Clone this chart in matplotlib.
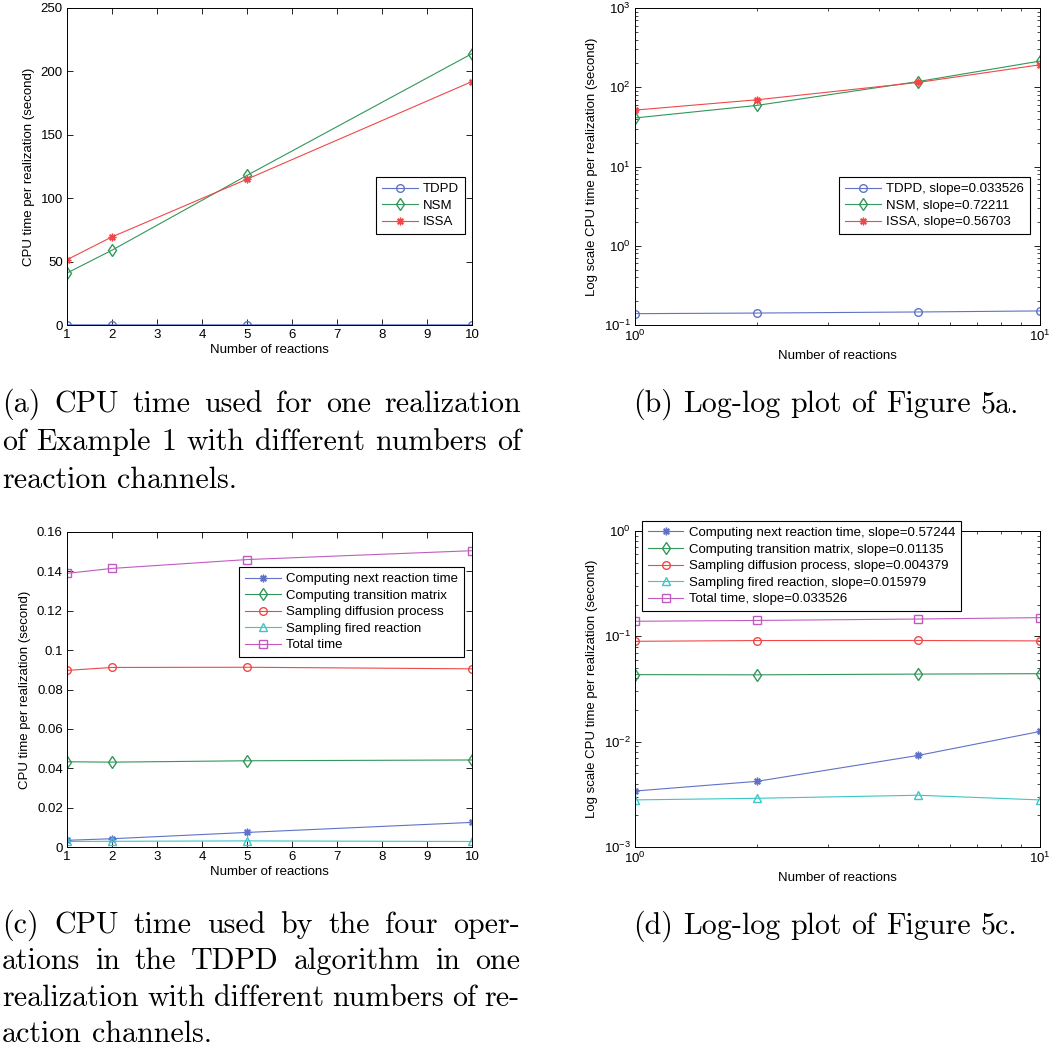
import numpy as np
import matplotlib
matplotlib.use('Agg')
import matplotlib.pyplot as plt
from matplotlib.ticker import FormatStrFormatter, NullFormatter, LogLocator

plt.rcParams['font.family'] = ['Liberation Sans', 'DejaVu Sans']
plt.rcParams['mathtext.fontset'] = 'custom'
plt.rcParams['mathtext.rm'] = 'Liberation Sans'
plt.rcParams['mathtext.it'] = 'Liberation Sans:italic'
plt.rcParams['mathtext.bf'] = 'Liberation Sans:bold'

# data
n_reactions = [1, 2, 5, 10]

tdpd = [0.139, 0.1415, 0.146, 0.1505]
nsm = [41, 59, 118, 214]
issa = [51.5, 69.5, 115, 192]
slopes_ab = ['0.033526', '0.72211', '0.56703']
names_ab = ['TDPD', 'NSM', 'ISSA']

next_reaction = [0.0034, 0.0042, 0.0074, 0.0125]
transition = [0.0433, 0.0431, 0.0438, 0.0442]
diffusion = [0.0897, 0.0912, 0.0913, 0.0905]
fired = [0.0028, 0.0029, 0.0031, 0.0028]
total = [0.139, 0.1415, 0.146, 0.1505]
slopes_cd = ['0.57244', '0.01135', '0.004379', '0.015979', '0.033526']
names_cd = ['Computing next reaction time', 'Computing transition matrix',
            'Sampling diffusion process', 'Sampling fired reaction', 'Total time']

blue = '#5f72c8'
green = '#31975a'
red = '#f04848'
cyan = '#3cc6c6'
magenta = '#c05cc0'

W, H = 1050, 1049
fig = plt.figure(figsize=(W / 100, H / 100), dpi=100)

fs = 9.5
lw = 0.8
ms = 5.5
star = (8, 2, 0)


def make_axes(x0, x1, y0, y1):
    ax = fig.add_axes([x0 / W, 1 - y1 / H, (x1 - x0) / W, (y1 - y0) / H])
    ax.tick_params(direction='in', top=True, right=True, labelsize=fs,
                   length=4, width=0.6, pad=3)
    ax.tick_params(which='minor', direction='in', top=True, right=True,
                   length=2.5, width=0.5)
    for s in ax.spines.values():
        s.set_linewidth(0.7)
    return ax


def style_legend(ax, **kw):
    leg = ax.legend(fontsize=fs, numpoints=1, fancybox=False, framealpha=1,
                    edgecolor='black', handlelength=2.7, handletextpad=0.4,
                    labelspacing=0.33, borderpad=0.45, borderaxespad=0, **kw)
    leg.get_frame().set_linewidth(0.8)
    return leg


def log_axis(ax):
    ax.set_xscale('log')
    ax.set_yscale('log')
    ax.xaxis.set_minor_formatter(NullFormatter())
    ax.yaxis.set_minor_locator(LogLocator(base=10, subs=np.arange(2, 10)))
    ax.yaxis.set_minor_formatter(NullFormatter())


# (a)
ax = make_axes(67, 472, 8, 325)
ax.plot(n_reactions, tdpd, color=blue, lw=lw, marker='o', ms=ms, mfc='none', label=names_ab[0])
ax.plot(n_reactions, nsm, color=green, lw=lw, marker='d', ms=ms + 0.5, mfc='none', label=names_ab[1])
ax.plot(n_reactions, issa, color=red, lw=lw, marker=star, ms=ms, label=names_ab[2])
ax.set_xlim(1, 10)
ax.set_ylim(0, 250)
ax.set_xticks(range(1, 11))
ax.set_yticks(range(0, 251, 50))
ax.set_xlabel('Number of reactions', fontsize=fs, labelpad=2)
ax.set_ylabel('CPU time per realization (second)', fontsize=fs)
style_legend(ax, loc='upper right', bbox_to_anchor=(0.983, 0.467))

# (b)
ax = make_axes(635, 1040, 8, 325)
log_axis(ax)
ax.plot(n_reactions, tdpd, color=blue, lw=lw, marker='o', ms=ms, mfc='none',
        label=names_ab[0] + ', slope=' + slopes_ab[0])
ax.plot(n_reactions, nsm, color=green, lw=lw, marker='d', ms=ms + 0.5, mfc='none',
        label=names_ab[1] + ', slope=' + slopes_ab[1])
ax.plot(n_reactions, issa, color=red, lw=lw, marker=star, ms=ms,
        label=names_ab[2] + ', slope=' + slopes_ab[2])
ax.set_xlim(1, 10)
ax.set_ylim(0.1, 1000)
ax.set_xlabel('Number of reactions', fontsize=fs)
ax.set_ylabel('Log scale CPU time per realization (second)', fontsize=fs)
style_legend(ax, loc='upper right', bbox_to_anchor=(0.975, 0.467))

# (c)
series_cd = [next_reaction, transition, diffusion, fired, total]
colors_cd = [blue, green, red, cyan, magenta]
markers_cd = [star, 'd', 'o', '^', 's']
ax = make_axes(67, 472, 532, 847)
for vals, c, m, nm in zip(series_cd, colors_cd, markers_cd, names_cd):
    ax.plot(n_reactions, vals, color=c, lw=lw, marker=m, ms=ms + (0.5 if m == 'd' else 0),
            mfc='none' if m != star else c, label=nm)
ax.set_xlim(1, 10)
ax.set_ylim(0, 0.16)
ax.set_xticks(range(1, 11))
ax.set_yticks(np.arange(0, 0.161, 0.02))
ax.yaxis.set_major_formatter(FormatStrFormatter('%g'))
ax.set_xlabel('Number of reactions', fontsize=fs, labelpad=2)
ax.set_ylabel('CPU time per realization (second)', fontsize=fs)
style_legend(ax, loc='upper right', bbox_to_anchor=(0.98, 0.889))

# (d)
ax = make_axes(635, 1040, 531, 847)
log_axis(ax)
for vals, c, m, nm, sl in zip(series_cd, colors_cd, markers_cd, names_cd, slopes_cd):
    ax.plot(n_reactions, vals, color=c, lw=lw, marker=m, ms=ms + (0.5 if m == 'd' else 0),
            mfc='none' if m != star else c, label=nm + ', slope=' + sl)
ax.set_xlim(1, 10)
ax.set_ylim(0.001, 1)
ax.set_xlabel('Number of reactions', fontsize=fs)
ax.set_ylabel('Log scale CPU time per realization (second)', fontsize=fs)
style_legend(ax, loc='upper left', bbox_to_anchor=(0.017, 1.032))

# captions, justified like the paper
cap_font = ['cmr10', 'DejaVu Serif']
cap_fs = 21.6
renderer = fig.canvas.get_renderer()


def caption_line(line, x0, x1, y, justify=True):
    words = line.split(' ')
    texts = [fig.text(0, 1 - y / H, w, fontsize=cap_fs, family=cap_font, va='baseline')
             for w in words]
    widths = [t.get_window_extent(renderer).width for t in texts]
    if justify and len(words) > 1:
        gap = (x1 - x0 - sum(widths)) / (len(words) - 1)
    else:
        gap = cap_fs * 100 / 72 * 0.333
    x = x0
    for t, w in zip(texts, widths):
        t.set_x(x / W)
        x += w + gap


cap_a = ['(a) CPU time used for one realization',
         'of Example 1 with different numbers of',
         'reaction channels.']
cap_c = ['(c) CPU time used by the four oper-',
         'ations in the TDPD algorithm in one',
         'realization with different numbers of re-',
         'action channels.']

for i, line in enumerate(cap_a):
    caption_line(line, 2, 521, 412 + 38 * i, justify=i < len(cap_a) - 1)
for i, line in enumerate(cap_c):
    caption_line(line, 2, 520, 933 + 36.4 * i, justify=i < len(cap_c) - 1)
caption_line('(b) Log-log plot of Figure 5a.', 633, 1012, 412, justify=False)
caption_line('(d) Log-log plot of Figure 5c.', 633, 1012, 934, justify=False)

fig.savefig('out.png', dpi=100)
